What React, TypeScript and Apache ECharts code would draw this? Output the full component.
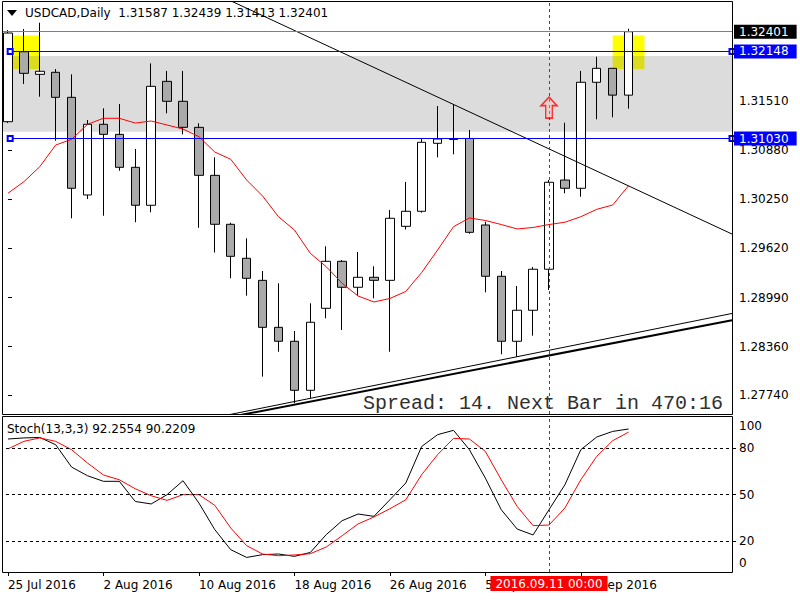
import React, { useEffect, useRef } from 'react';
import * as echarts from 'echarts';

// ---------- data ----------
const categories = [
  '25 Jul 2016', '26 Jul 2016', '27 Jul 2016', '28 Jul 2016', '29 Jul 2016',
  '1 Aug 2016', '2 Aug 2016', '3 Aug 2016', '4 Aug 2016', '5 Aug 2016',
  '8 Aug 2016', '9 Aug 2016', '10 Aug 2016', '11 Aug 2016', '12 Aug 2016',
  '15 Aug 2016', '16 Aug 2016', '17 Aug 2016', '18 Aug 2016', '19 Aug 2016',
  '22 Aug 2016', '23 Aug 2016', '24 Aug 2016', '25 Aug 2016', '26 Aug 2016',
  '29 Aug 2016', '30 Aug 2016', '31 Aug 2016', '1 Sep 2016', '2 Sep 2016',
  '5 Sep 2016', '6 Sep 2016', '7 Sep 2016', '8 Sep 2016', '9 Sep 2016',
  '12 Sep 2016', '13 Sep 2016', '14 Sep 2016', '15 Sep 2016', '16 Sep 2016',
  '19 Sep 2016', '20 Sep 2016', '21 Sep 2016', '22 Sep 2016', '23 Sep 2016',
  '26 Sep 2016',
];
const labelIndices = [0, 6, 12, 18, 24, 30, 36];

const opens = [
  1.31246, 1.32144, 1.31854, 1.31880, 1.31559, 1.30306, 1.31213, 1.31084, 1.30661, 1.30174,
  1.31764, 1.31508, 1.31174, 1.30558, 1.29930, 1.29494, 1.29211, 1.28608, 1.28429, 1.27800,
  1.28852, 1.29455, 1.29122, 1.29250, 1.29211, 1.29904, 1.30097, 1.30969, 1.31031, 1.31031,
  1.29921, 1.29263, 1.28429, 1.28827, 1.29353, 1.30498, 1.30392, 1.31752, 1.31931, 1.31587,
];
const closes = [
  1.32384, 1.31867, 1.31893, 1.31559, 1.30392, 1.31213, 1.31084, 1.30661, 1.30174, 1.31700,
  1.31508, 1.31174, 1.30558, 1.29930, 1.29519, 1.29237, 1.28608, 1.28429, 1.27800, 1.28673,
  1.29455, 1.29122, 1.29250, 1.29211, 1.30007, 1.30097, 1.30982, 1.31024, 1.31018, 1.29827,
  1.29263, 1.28429, 1.28827, 1.29353, 1.30469, 1.30392, 1.31752, 1.31931, 1.31587, 1.32401,
];
const lows = [
  1.31229, 1.31730, 1.31567, 1.31002, 1.30007, 1.30254, 1.30040, 1.30617, 1.29956, 1.30084,
  1.31354, 1.31084, 1.29886, 1.29568, 1.29237, 1.29014, 1.27975, 1.28295, 1.27634, 1.27698,
  1.28724, 1.28574, 1.29010, 1.28980, 1.28295, 1.29863, 1.30079, 1.30789, 1.30828, 1.29809,
  1.29057, 1.28262, 1.28231, 1.28501, 1.29087, 1.30328, 1.30284, 1.31277, 1.31303, 1.31413,
];
const highs = [
  1.32422, 1.32435, 1.32516, 1.31922, 1.31854, 1.31268, 1.31418, 1.31473, 1.30896, 1.31995,
  1.31897, 1.31897, 1.31226, 1.30789, 1.29950, 1.29750, 1.29331, 1.29173, 1.28561, 1.28916,
  1.29648, 1.29472, 1.29575, 1.29391, 1.30113, 1.30473, 1.31024, 1.31447, 1.31469, 1.31140,
  1.29963, 1.29331, 1.29138, 1.29382, 1.30498, 1.31233, 1.31897, 1.32080, 1.31935, 1.32439,
];
const maValues = [
  1.30328, 1.30476, 1.30669, 1.30947, 1.31020, 1.31213, 1.31290, 1.31290, 1.31229, 1.31255,
  1.31204, 1.31152, 1.31054, 1.30857, 1.30764, 1.30498, 1.30293, 1.30027, 1.29857, 1.29558,
  1.29386, 1.29173, 1.29010, 1.28933, 1.28978, 1.29068, 1.29312, 1.29600, 1.29899, 1.30011,
  1.29979, 1.29927, 1.29870, 1.29889, 1.29927, 1.29956, 1.30027, 1.30122, 1.30177, 1.30425,
];
const stochK = [
  85.8, 86.5, 86.8, 82.1, 67.7, 62.1, 58.5, 58.5, 45.5, 43.9,
  49.9, 58.9, 44.5, 27.3, 14.4, 9.4, 11.2, 11.6, 10.1, 12.6,
  24.1, 33.1, 37.4, 35.9, 46.6, 57.4, 81.0, 88.6, 91.4, 78.9,
  60.6, 40.2, 27.7, 23.9, 40.2, 56.3, 78.9, 87.1, 90.7, 92.2554,
];
const stochD = [
  79.4, 84.3, 86.5, 84.3, 78.9, 70.3, 62.6, 59.5, 53.7, 49.2,
  46.2, 49.9, 49.9, 43.0, 28.4, 17.0, 11.6, 10.5, 11.0, 11.8,
  16.1, 23.4, 31.0, 35.5, 40.8, 46.6, 62.8, 75.7, 86.2, 85.8,
  77.8, 59.5, 42.3, 29.9, 30.3, 41.3, 59.5, 74.6, 84.7, 90.2209,
];

const priceTicks = [1.2774, 1.2836, 1.2899, 1.2962, 1.3025, 1.3088, 1.3151];
const stochLabels = [0, 20, 50, 80, 100];
const stochLevels = [20, 50, 80];
const bidPrice = 1.32401;
const levelPrices = [1.32148, 1.3103];
const zoneRange = [1.32089, 1.31118];
const yellowRange = [1.32352, 1.31922];
const yellowBoxes = [[0, 2], [38, 40]];
const trendDown = [[14, 1.32797], [45.5, 1.29805]];
const trendUpThin = [[13.5, 1.27471], [45.5, 1.28786]];
const trendUpThick = [[14, 1.27459], [45.5, 1.287]];
const crossIndex = 34;
const crossLabel = '2016.09.11 00:00';
const arrowPoint = [34, 1.31428];
const spreadText = 'Spread: 14. Next Bar in 470:16';

const FONT = 'DejaVu Sans';

export default function App() {
  const ref = useRef<HTMLDivElement>(null);
  useEffect(() => {
    if (!ref.current) return;
    const chart = echarts.init(ref.current, undefined, { renderer: 'svg' });
    const last = opens.length - 1;
    const titleText = `USDCAD,Daily  ${opens[last].toFixed(5)} ${highs[last].toFixed(5)} ${lows[last].toFixed(5)} ${closes[last].toFixed(5)}`;
    const stochTitle = `Stoch(13,3,3) ${stochK[last].toFixed(4)} ${stochD[last].toFixed(4)}`;

    const lblBase = { fontFamily: FONT, fontSize: 12, color: '#000' };

    const option: any = {
      animation: false,
      textStyle: { fontFamily: FONT },
      grid: [
        { left: -5, top: 2, width: 737, height: 412 },
        { left: -5, top: 417, width: 737, height: 155 },
      ],
      xAxis: [
        { type: 'category', gridIndex: 0, data: categories, boundaryGap: true, show: false },
        { type: 'value', gridIndex: 0, min: -0.5, max: 45.5, show: false },
        {
          type: 'category', gridIndex: 1, data: categories, boundaryGap: true,
          axisLine: { show: false },
          axisTick: {
            show: true, alignWithLabel: true, length: 4,
            interval: (i: number) => labelIndices.indexOf(i) >= 0,
            lineStyle: { color: '#000' },
          },
          axisLabel: {
            ...lblBase, align: 'left', margin: 7,
            interval: (i: number) => labelIndices.indexOf(i) >= 0,
          },
          splitLine: { show: false },
        },
      ],
      yAxis: [
        {
          type: 'value', gridIndex: 0, position: 'right', min: 1.27496, max: 1.32782,
          axisLine: { show: false },
          splitLine: { show: false },
          axisTick: { show: true, length: 4, customValues: priceTicks, lineStyle: { color: '#000' } },
          axisLabel: { ...lblBase, margin: 7, customValues: priceTicks, formatter: (v: number) => v.toFixed(5) },
        },
        {
          type: 'value', gridIndex: 1, position: 'right', min: 0, max: 100,
          axisLine: { show: false },
          splitLine: { show: false },
          axisTick: { show: true, length: 4, customValues: stochLevels, lineStyle: { color: '#000' } },
          axisLabel: {
            ...lblBase, margin: 7, customValues: stochLabels,
            formatter: (v: number) => (v === 100 ? '{t|100}' : v === 0 ? '{b|0}' : '{m|' + v + '}'),
            rich: {
              t: { ...lblBase, padding: [18, 0, 0, 0] },
              b: { ...lblBase, padding: [0, 0, 18, 0] },
              m: { ...lblBase },
            },
          },
        },
      ],
      series: [
        // background zones
        {
          type: 'line', xAxisIndex: 1, yAxisIndex: 0, data: [], z: 1, silent: true,
          markArea: {
            silent: true,
            data: [
              [{ yAxis: zoneRange[0], itemStyle: { color: '#dcdcdc' } }, { yAxis: zoneRange[1] }],
              ...yellowBoxes.map((b) => [
                { coord: [b[0], yellowRange[0]], itemStyle: { color: '#ffff00' } },
                { coord: [b[1], zoneRange[0]] },
              ]),
              ...yellowBoxes.map((b) => [
                { coord: [b[0], zoneRange[0]], itemStyle: { color: '#dcdc1e' } },
                { coord: [b[1], yellowRange[1]] },
              ]),
            ],
          },
        },
        // bid price line
        {
          type: 'line', xAxisIndex: 1, yAxisIndex: 0, data: [], z: 2, silent: true,
          markLine: {
            silent: true, symbol: ['none', 'none'], precision: 5,
            lineStyle: { color: '#808080', width: 1, type: 'solid' },
            label: {
              show: true, position: 'end', distance: 2, formatter: bidPrice.toFixed(5),
              backgroundColor: '#000', color: '#fff', padding: [1, 8, 1, 5], fontFamily: FONT, fontSize: 12,
            },
            data: [[{ coord: [-0.5, bidPrice] }, { coord: [45.5, bidPrice] }]],
          },
        },
        // candles
        {
          type: 'candlestick', xAxisIndex: 0, yAxisIndex: 0, z: 3, barWidth: 9,
          data: opens.map((o, i) => [o, closes[i], lows[i], highs[i]]),
          itemStyle: { color: '#ffffff', color0: '#aaaaaa', borderColor: '#000', borderColor0: '#000', borderWidth: 1 },
          markLine: {
            silent: true, symbol: ['none', 'none'],
            lineStyle: { color: '#ff0000', width: 1, type: [3, 3] },
            label: { show: false },
            data: [{ xAxis: crossIndex }],
          },
        },
        // moving average
        {
          type: 'line', xAxisIndex: 0, yAxisIndex: 0, data: maValues, z: 4,
          symbol: 'none', lineStyle: { color: '#ff0000', width: 1 },
        },
        // trend lines
        {
          type: 'line', xAxisIndex: 1, yAxisIndex: 0, data: trendDown, z: 4,
          symbol: 'none', lineStyle: { color: '#000', width: 1 },
        },
        {
          type: 'line', xAxisIndex: 1, yAxisIndex: 0, data: trendUpThin, z: 4,
          symbol: 'none', lineStyle: { color: '#000', width: 1 },
        },
        {
          type: 'line', xAxisIndex: 1, yAxisIndex: 0, data: trendUpThick, z: 4,
          symbol: 'none', lineStyle: { color: '#000', width: 2 },
        },
        // blue level lines
        {
          type: 'line', xAxisIndex: 1, yAxisIndex: 0, data: [], z: 5, silent: true,
          markLine: {
            silent: true, symbol: ['emptyRect', 'emptyRect'], symbolSize: 5, precision: 5,
            lineStyle: { color: '#0000ff', width: 1, type: 'solid' },
            label: {
              show: true, position: 'end', distance: 2,
              backgroundColor: '#0000ff', color: '#fff', padding: [1, 8, 1, 5], fontFamily: FONT, fontSize: 12,
            },
            data: levelPrices.map((p) => [
              { coord: [0.14, p], label: { formatter: p.toFixed(5) } },
              { coord: [45.5, p], label: { formatter: p.toFixed(5) } },
            ]),
          },
        },
        // arrow
        {
          type: 'scatter', xAxisIndex: 1, yAxisIndex: 0, z: 6, data: [arrowPoint],
          symbol: 'path://M8.5,0 L17,9 L12,9 L12,22 L5,22 L5,9 L0,9 Z',
          symbolSize: [16, 21],
          itemStyle: { color: 'rgba(255,190,190,0.45)', borderColor: '#ff0000', borderWidth: 1.5 },
        },
        // stochastic
        {
          type: 'line', xAxisIndex: 2, yAxisIndex: 1, data: stochK, z: 4,
          symbol: 'none', lineStyle: { color: '#000', width: 1 },
          markLine: {
            silent: true, symbol: ['none', 'none'],
            data: [
              ...stochLevels.map((v) => ({
                yAxis: v, lineStyle: { color: '#000', width: 1, type: [3, 3] }, label: { show: false },
              })),
              {
                xAxis: crossIndex,
                lineStyle: { color: '#ff0000', width: 1, type: [3, 3] },
                label: {
                  show: true, position: 'start', distance: 4, formatter: crossLabel,
                  backgroundColor: '#ff0000', color: '#fff', padding: [2, 5, 1, 5], fontFamily: FONT, fontSize: 12,
                },
              },
            ],
          },
        },
        {
          type: 'line', xAxisIndex: 2, yAxisIndex: 1, data: stochD, z: 4,
          symbol: 'none', lineStyle: { color: '#ff0000', width: 1 },
        },
      ],
      graphic: [
        { type: 'rect', z: 100, shape: { x: 0, y: 0, width: 2.5, height: 600 }, style: { fill: '#fff' } },
        { type: 'rect', z: 101, shape: { x: 2.5, y: 1.5, width: 730, height: 413 }, style: { fill: 'none', stroke: '#000', lineWidth: 1 } },
        { type: 'rect', z: 101, shape: { x: 2.5, y: 416.5, width: 730, height: 156 }, style: { fill: 'none', stroke: '#000', lineWidth: 1 } },
        { type: 'polygon', z: 102, shape: { points: [[7, 10], [17, 10], [12, 16]] }, style: { fill: '#000' } },
        {
          type: 'text', z: 102, x: 25, y: 13,
          style: { text: titleText, fontFamily: FONT, fontSize: 12, fill: '#000', verticalAlign: 'middle', align: 'left' },
        },
        {
          type: 'text', z: 102, x: 7, y: 429,
          style: { text: stochTitle, fontFamily: FONT, fontSize: 12, fill: '#000', verticalAlign: 'middle', align: 'left' },
        },
        {
          type: 'text', z: 102, x: 363, y: 403,
          style: { text: spreadText, fontFamily: 'Liberation Mono', fontSize: 20, fill: '#303030', verticalAlign: 'middle', align: 'left' },
        },
      ],
    };
    chart.setOption(option);
    return () => chart.dispose();
  }, []);
  return <div ref={ref} style={{ position: 'absolute', left: 0, top: 0, width: 800, height: 600 }} />;
}
